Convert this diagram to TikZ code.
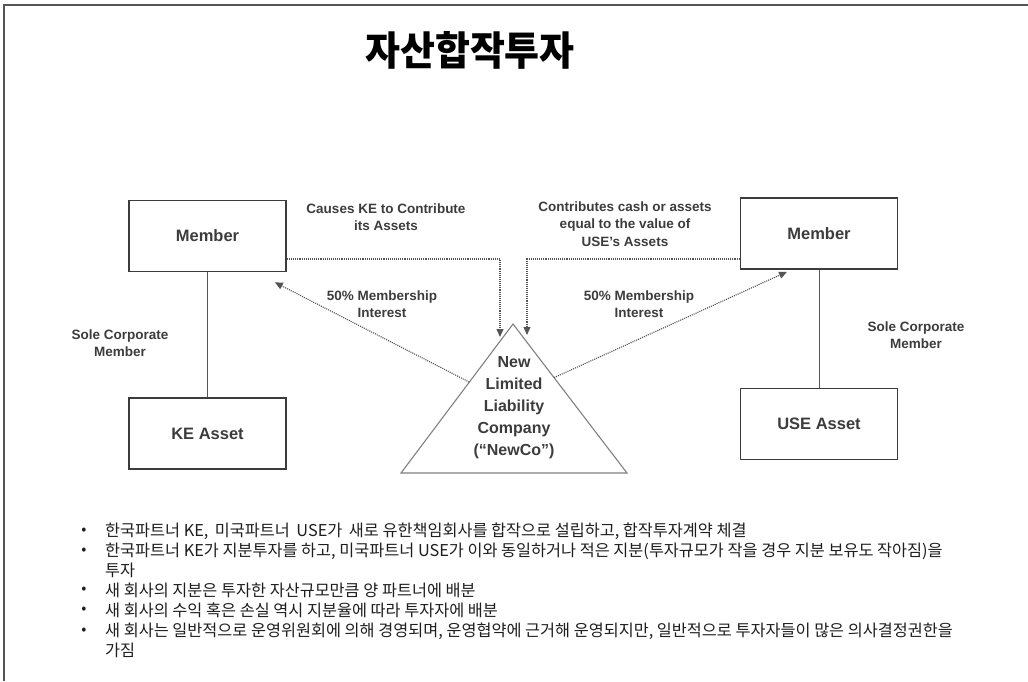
\documentclass[tikz,border=0pt]{standalone}
\usepackage{fontspec}
\setmainfont{Liberation Sans}
\newfontfamily\kr{Noto Sans CJK KR}
\usetikzlibrary{arrows.meta,calc}
\definecolor{ink}{HTML}{3C3C3C}
\definecolor{lineg}{HTML}{555555}
\definecolor{trig}{HTML}{808080}
\definecolor{framec}{HTML}{555555}
\definecolor{bul}{HTML}{1E1E1E}
\begin{document}
\begin{tikzpicture}[x=1pt,y=-1pt,
  box/.style={draw=ink, line width=1.6pt, minimum width=157pt, minimum height=71pt, inner sep=0pt,
    font=\fontsize{16.5}{20}\selectfont\bfseries, text=ink},
  lbl/.style={font=\fontsize{13.5}{17.5}\selectfont\bfseries, text=ink, align=center, inner sep=0pt},
  dots/.style={densely dotted, line width=1.1pt, draw=lineg, -{Triangle[length=8pt,width=7pt]}},
  solidline/.style={line width=1pt, draw=lineg},
  bullet/.style={font=\kr\fontsize{16.3}{18}\selectfont, text=bul, anchor=west, inner sep=0pt},
  bdot/.style={font=\kr\fontsize{15}{16}\selectfont, text=bul, inner sep=0pt}
]
\useasboundingbox (0,0) rectangle (1028,681);
% frame
\draw[framec, line width=2pt] (4,681) -- (4,5) -- (1028,5);
% title
\node[font=\kr\bfseries\fontsize{40}{44}\selectfont, inner sep=0pt] (title) at (470,50) {\scalebox{0.95}[1]{자산합작투자}};
% boxes
\node[box] (lm) at (207.5,236) {Member};
\node[box] (ke) at (207.5,433.5) {KE Asset};
\node[box] (rm) at (819,233.5) {Member};
\node[box] (use) at (819,424) {USE Asset};
\draw[solidline] (lm.south) -- (ke.north);
\draw[solidline] (rm.south) -- (use.north);
% triangle
\coordinate (apex) at (513,324);
\coordinate (bl) at (401,473);
\coordinate (br) at (627,473);
\draw[trig, line width=1.1pt, line join=miter] (apex) -- (bl) -- (br) -- cycle;
\node[font=\fontsize{16}{22}\selectfont\bfseries, text=ink, align=center, inner sep=0pt] (newco) at (514,408)
  {New\\Limited\\Liability\\Company\\(“NewCo”)};
% connectors
\coordinate (ly) at (0,259);
\coordinate (ltip) at (500,337);
\coordinate (rtip) at (527,335);
\draw[dots] (lm.east |- ly) -| (ltip);
\draw[dots] (rm.west |- ly) -| (rtip);
\coordinate (lside) at ($(apex)!0.39!(bl)$);
\coordinate (rside) at ($(apex)!0.36!(br)$);
\draw[dots] (lside) -- ($(lm.south east)+(-12,10)$);
\draw[dots] (rside) -- ($(rm.south)+(-32,2)$);
% labels
\node[lbl] (l1) at (386,217) {Causes KE to Contribute\\its Assets};
\node[lbl] (l2) at (382,304) {50\% Membership\\Interest};
\node[lbl] (l3) at (625,224) {Contributes cash or assets\\equal to the value of\\USE’s Assets};
\node[lbl] (l4) at (639,304) {50\% Membership\\Interest};
\node[lbl] (l5) at (120,343) {Sole Corporate\\Member};
\node[lbl] (l6) at (916,335) {Sole Corporate\\Member};
% bullets
\foreach \y in {531,551,590,610,631} \node[bdot] at (84,\y) {•};
\node[bullet] (b1) at (105,531) {한국파트너 KE,\hspace{0.4em}미국파트너\hspace{0.4em}USE가\hspace{0.4em}새로 유한책임회사를 합작으로 설립하고, 합작투자계약 체결};
\node[bullet] (b2) at (105,551) {한국파트너 KE가 지분투자를 하고, 미국파트너 USE가 이와 동일하거나 적은 지분(투자규모가 작을 경우 지분 보유도 작아짐)을};
\node[bullet] (b2b) at (105,570) {투자};
\node[bullet] (b3) at (105,590) {새 회사의 지분은 투자한 자산규모만큼 양 파트너에 배분};
\node[bullet] (b4) at (105,610) {새 회사의 수익 혹은 손실 역시 지분율에 따라 투자자에 배분};
\node[bullet] (b5) at (105,631) {새 회사는 일반적으로 운영위원회에 의해 경영되며, 운영협약에 근거해 운영되지만, 일반적으로 투자자들이 많은 의사결정권한을};
\node[bullet] (b5b) at (105,650) {가짐};
\end{tikzpicture}
\end{document}
